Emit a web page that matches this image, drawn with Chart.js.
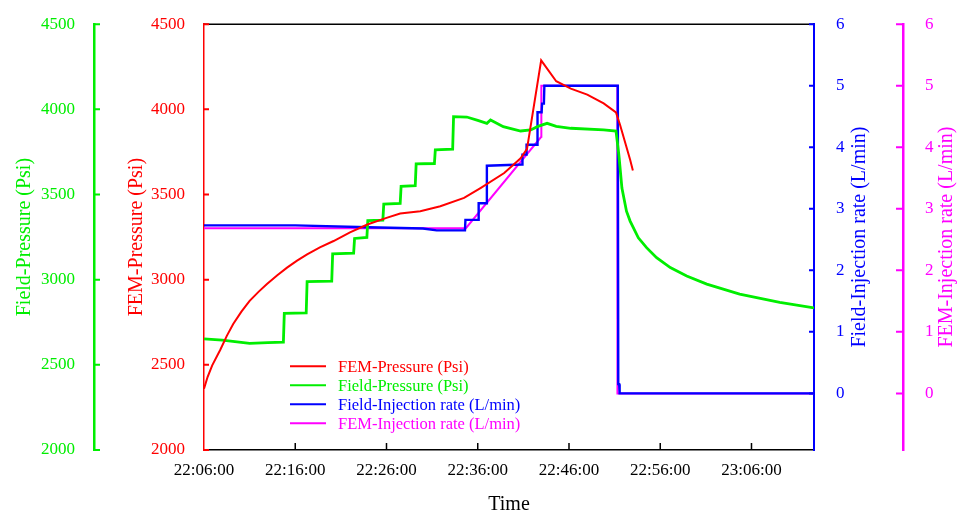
<!DOCTYPE html>
<html>
<head>
<meta charset="utf-8">
<script src="https://cdn.jsdelivr.net/npm/chart.js@4.4.1/dist/chart.umd.min.js"></script>
<style>
  html, body { margin: 0; padding: 0; background: #fff; }
</style>
</head>
<body>
<canvas id="chart" width="960" height="513"></canvas>
<script>
// time is in minutes after 22:06:00
var femPressureT = [0, 0.4, 0.9, 1.8, 2.5, 3.2, 4.1, 5.0, 6.0, 6.9, 8.0, 9.1, 10.2, 11.3, 12.7, 14.2, 16.0, 17.9, 20.0, 21.5, 23.7, 25.9, 28.5, 30.3, 32.9, 34.7, 35.4, 36.95, 38.6, 40.2, 42.0, 43.8, 45.15, 45.6, 46.7, 47.0];
var femPressure  = [2360, 2430, 2497, 2590, 2670, 2740, 2812, 2876, 2930, 2974, 3025, 3071, 3112, 3149, 3190, 3227, 3278, 3324, 3363, 3389, 3402, 3431, 3480, 3538, 3626, 3713, 3768, 4288, 4165, 4122, 4087, 4035, 3982, 3908, 3704, 3641];

var fieldPressureT = [0, 2.0, 5.0, 7.0, 8.7, 8.8, 11.2, 11.3, 14.0, 14.1, 16.4, 16.5, 17.85, 17.95, 19.6, 19.7, 21.5, 21.6, 23.15, 23.25, 25.25, 25.35, 27.25, 27.35, 28.8, 30.0, 31.0, 31.4, 32.8, 34.7, 35.8, 36.6, 37.6, 38.6, 40.2, 43.8, 45.15, 45.45, 45.5, 45.8, 46.3, 46.7, 47.6, 48.5, 49.6, 51.1, 52.9, 55.1, 58.7, 63.1, 66.85];
var fieldPressure  = [2653, 2645, 2626, 2630, 2633, 2802, 2805, 2989, 2992, 3152, 3156, 3242, 3248, 3347, 3350, 3444, 3448, 3548, 3552, 3680, 3682, 3762, 3766, 3957, 3955, 3935, 3918, 3938, 3898, 3873, 3879, 3900, 3918, 3900, 3889, 3879, 3873, 3740, 3713, 3538, 3402, 3344, 3246, 3188, 3129, 3071, 3022, 2974, 2915, 2867, 2834];

var fieldRateT = [0, 10, 18, 24, 25.5, 28.6, 28.65, 30.05, 30.1, 30.95, 31.0, 34.85, 34.9, 35.3, 35.35, 36.5, 36.55, 37.0, 37.05, 37.25, 37.3, 45.35, 45.4, 45.5, 45.55, 66.85];
var fieldRate  = [2.73, 2.73, 2.70, 2.68, 2.65, 2.65, 2.82, 2.82, 3.09, 3.09, 3.70, 3.72, 3.88, 3.88, 4.04, 4.04, 4.57, 4.57, 4.71, 4.71, 5.0, 5.0, 0.15, 0.15, 0, 0];

var femRateT = [0, 28.7, 36.96, 36.97, 45.3, 45.31, 66.85];
var femRate  = [2.685, 2.685, 4.17, 5.0, 5.0, 0, 0];

var pressureTicks = [2000, 2500, 3000, 3500, 4000, 4500];
var rateTicks = [0, 1, 2, 3, 4, 5, 6];
var timeTicks = [0, 10, 20, 30, 40, 50, 60];

var RED = '#ff0000', GREEN = '#00ee00', BLUE = '#0000ff', MAGENTA = '#ff00ff';
var SERIF = "'Liberation Serif', 'Times New Roman', serif";

function points(t, v) {
  return t.map(function (x, i) { return { x: x, y: v[i] }; });
}

function pad2(n) { return (n < 10 ? '0' : '') + n; }
function clock(m) {
  var total = 22 * 60 + 6 + Math.round(m);
  return pad2(Math.floor(total / 60) % 24) + ':' + pad2(total % 60) + ':00';
}

function keepTicks(list) {
  return function (scale) {
    scale.ticks = list.map(function (v) { return { value: v }; });
  };
}

// inward tick length and title offset from the scale's left edge
var axisDecor = {
  yFieldP: { tick: 6, titleOffset: 25, color: GREEN },
  yFemP:   { tick: 5, titleOffset: 43, color: RED },
  yFieldQ: { tick: 5, titleOffset: 46, color: BLUE },
  yFemQ:   { tick: 7, titleOffset: 44, color: MAGENTA }
};

var axisExtras = {
  id: 'axisExtras',
  afterDraw: function (chart) {
    var ctx = chart.ctx, area = chart.chartArea;
    ctx.save();
    // frame top
    ctx.strokeStyle = '#000';
    ctx.lineWidth = 1.5;
    ctx.beginPath();
    ctx.moveTo(area.left, area.top);
    ctx.lineTo(area.right, area.top);
    ctx.stroke();

    // x ticks pointing up into the plot
    var xs = chart.scales.x;
    ctx.beginPath();
    xs.ticks.forEach(function (t) {
      var px = xs.getPixelForValue(t.value);
      if (px <= area.left + 1) return;
      ctx.moveTo(px, area.bottom);
      ctx.lineTo(px, area.bottom - 7);
    });
    ctx.stroke();

    Object.keys(axisDecor).forEach(function (id) {
      var s = chart.scales[id], d = axisDecor[id];
      var left = s.options.position === 'left';
      var edge = left ? s.right : s.left;
      var dir = left ? 1 : -1;
      ctx.strokeStyle = d.color;
      ctx.lineWidth = 2;
      ctx.beginPath();
      s.ticks.forEach(function (t) {
        var py = s.getPixelForValue(t.value);
        ctx.moveTo(edge, py);
        ctx.lineTo(edge + dir * d.tick, py);
      });
      ctx.stroke();

      // axis title, always reading bottom to top
      ctx.save();
      ctx.translate(s.left + d.titleOffset, (s.top + s.bottom) / 2);
      ctx.rotate(-Math.PI / 2);
      ctx.fillStyle = d.color;
      ctx.font = '20px ' + SERIF;
      ctx.textAlign = 'center';
      ctx.textBaseline = 'middle';
      ctx.fillText(s.options.title.text, 0, 0);
      ctx.restore();
    });
    ctx.restore();
  }
};

var innerLegend = {
  id: 'innerLegend',
  afterDraw: function (chart) {
    var ctx = chart.ctx, area = chart.chartArea;
    var x0 = area.left + 86, y0 = area.top + 342, row = 19;
    ctx.save();
    ctx.font = '16.5px ' + SERIF;
    ctx.textBaseline = 'middle';
    chart.data.datasets.forEach(function (ds, i) {
      var y = y0 + i * row;
      ctx.strokeStyle = ds.borderColor;
      ctx.lineWidth = 2;
      ctx.beginPath();
      ctx.moveTo(x0, y);
      ctx.lineTo(x0 + 36, y);
      ctx.stroke();
      ctx.fillStyle = ds.borderColor;
      ctx.fillText(ds.label, x0 + 48, y + 1);
    });
    ctx.restore();
  }
};

function yAxis(position, weight, min, max, color, width, borderWidth, pad, title, tickList) {
  return {
    type: 'linear',
    position: position,
    weight: weight,
    min: min,
    max: max,
    grid: { display: false },
    border: { display: true, color: color, width: borderWidth },
    ticks: {
      color: color,
      padding: pad,
      font: { family: SERIF, size: 17 },
      callback: function (v) { return String(v); }
    },
    title: { display: false, text: title },
    afterBuildTicks: keepTicks(tickList),
    afterFit: function (scale) { scale.width = width; }
  };
}

new Chart(document.getElementById('chart'), {
  type: 'line',
  data: {
    datasets: [{
      label: 'FEM-Pressure (Psi)',
      data: points(femPressureT, femPressure),
      borderColor: RED,
      borderWidth: 2,
      yAxisID: 'yFemP'
    }, {
      label: 'Field-Pressure (Psi)',
      data: points(fieldPressureT, fieldPressure),
      borderColor: GREEN,
      borderWidth: 2.8,
      yAxisID: 'yFieldP'
    }, {
      label: 'Field-Injection rate (L/min)',
      data: points(fieldRateT, fieldRate),
      borderColor: BLUE,
      borderWidth: 2.4,
      yAxisID: 'yFieldQ'
    }, {
      label: 'FEM-Injection rate (L/min)',
      data: points(femRateT, femRate),
      borderColor: MAGENTA,
      borderWidth: 2,
      yAxisID: 'yFemQ'
    }]
  },
  options: {
    responsive: false,
    animation: false,
    devicePixelRatio: 1,
    elements: { point: { radius: 0 }, line: { tension: 0 } },
    layout: { padding: { top: 22, left: 0, right: 0, bottom: 0 } },
    plugins: {
      legend: { display: false },
      tooltip: { enabled: false }
    },
    scales: {
      x: {
        type: 'linear',
        position: 'bottom',
        min: 0,
        max: 66.85,
        grid: { display: false },
        border: { display: true, color: '#000', width: 1.5 },
        ticks: {
          color: '#000',
          padding: 2,
          maxRotation: 0,
          font: { family: SERIF, size: 17 },
          callback: function (v) { return clock(v); }
        },
        title: {
          display: true,
          text: 'Time',
          color: '#000',
          font: { family: SERIF, size: 20, lineHeight: 0.8 },
          padding: { top: 0, bottom: 0 }
        },
        afterBuildTicks: keepTicks(timeTicks),
        afterFit: function (scale) { scale.height = 63; }
      },
      yFemP: yAxis('left', 0, 2000, 4500, RED, 110, 1.5, 11, 'FEM-Pressure (Psi)', pressureTicks),
      yFieldP: yAxis('left', 1, 2000, 4500, GREEN, 94, 2.5, 11, 'Field-Pressure (Psi)', pressureTicks),
      yFieldQ: yAxis('right', 0, -0.92, 6, BLUE, 89, 2, 14, 'Field-Injection rate (L/min)', rateTicks),
      yFemQ: yAxis('right', 1, -0.92, 6, MAGENTA, 57, 2.5, 14, 'FEM-Injection rate (L/min)', rateTicks)
    }
  },
  plugins: [axisExtras, innerLegend]
});
</script>
</body>
</html>
